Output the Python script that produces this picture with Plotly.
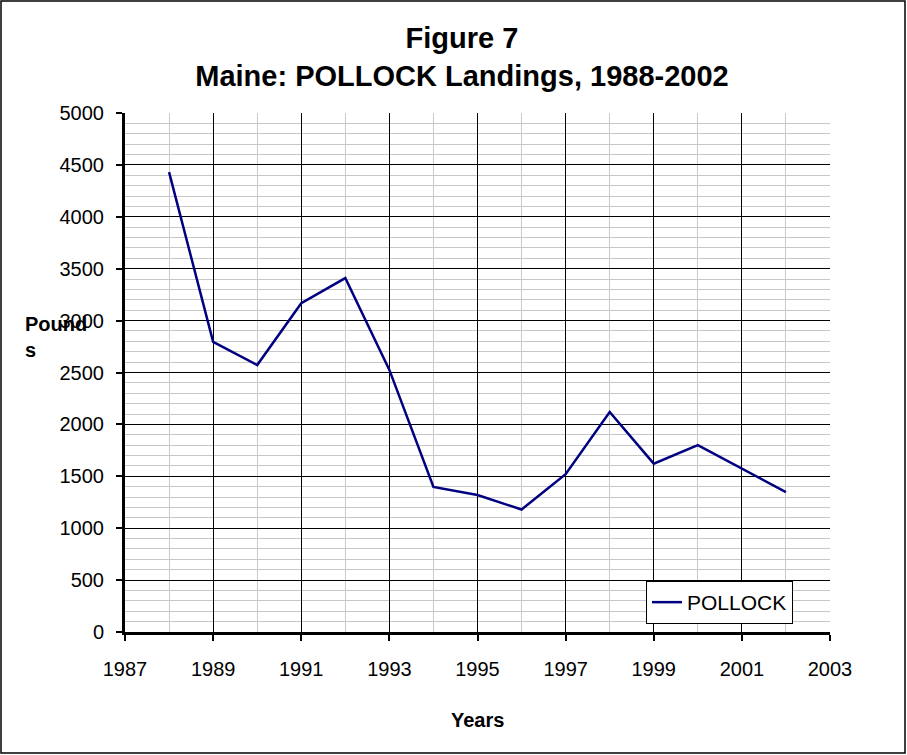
import plotly.graph_objects as go

years = [1988, 1989, 1990, 1991, 1992, 1993, 1994, 1995, 1996, 1997, 1998, 1999, 2000, 2001, 2002]
pounds = [4430, 2795, 2572, 3168, 3410, 2525, 1398, 1320, 1180, 1520, 2120, 1622, 1800, 1578, 1348]
series_name = "POLLOCK"
title_text = "Figure 7<br>Maine: POLLOCK Landings, 1988-2002"
x_title = "Years"
y_title = "Pound<br>s"

FONT = "Liberation Sans, Arial, sans-serif"

fig = go.Figure()
fig.add_trace(go.Scatter(x=years, y=pounds, mode="lines", name=series_name,
                         line=dict(color="#000080", width=2.5)))

L, R, T, B = 125, 77, 113, 123
W, H = 907, 755
pw, ph = W - L - R, H - T - B

fig.update_layout(
    width=W, height=H,
    margin=dict(l=L, r=R, t=T, b=B, pad=0),
    paper_bgcolor="white", plot_bgcolor="white",
    font=dict(family=FONT, size=20, color="black"),
    title=dict(text=title_text, x=462 / W, xref="container", xanchor="center",
               y=1 - 48 / H, yref="container", yanchor="top",
               font=dict(family=FONT, size=29, color="black", weight="bold")),
    showlegend=True,
    legend=dict(x=(646 - L) / pw, y=(632 - 581) / ph, xanchor="left", yanchor="top",
                bgcolor="white", bordercolor="black", borderwidth=1,
                font=dict(family=FONT, size=21), itemwidth=30,
                tracegroupgap=0),
    xaxis=dict(range=[1987, 2003], tick0=1987, dtick=2, tickmode="linear",
               showgrid=True, gridcolor="#000000", gridwidth=1,
               showline=True, linecolor="black", linewidth=3,
               ticks="outside", ticklen=6, tickwidth=2, tickcolor="black",
               ticklabelstandoff=11,
               tickfont=dict(size=20), zeroline=False,
               minor=dict(dtick=1, tick0=1987, showgrid=True, gridcolor="#c8c8c8", gridwidth=1, ticks="")),
    yaxis=dict(range=[0, 5000], tick0=0, dtick=500, tickmode="linear",
               showgrid=True, gridcolor="#000000", gridwidth=1,
               showline=True, linecolor="black", linewidth=3,
               ticks="outside", ticklen=6, tickwidth=2, tickcolor="black",
               ticklabelstandoff=8,
               tickfont=dict(size=20), zeroline=False,
               minor=dict(dtick=100, tick0=0, showgrid=True, gridcolor="#c8c8c8", gridwidth=1, ticks="")),
)

fig.add_annotation(text=x_title, xref="paper", yref="paper",
                   x=(478 - L) / pw, y=(632 - 720) / ph, xanchor="center", yanchor="middle",
                   showarrow=False, font=dict(family=FONT, size=20, color="black", weight="bold"))
fig.add_annotation(text=y_title, xref="paper", yref="paper",
                   x=(23 - L) / pw, y=(632 - 337) / ph, xanchor="left", yanchor="middle",
                   align="left", showarrow=False,
                   font=dict(family=FONT, size=20, color="black", weight="bold"))

# outer border
fig.add_shape(type="rect", xref="paper", yref="paper",
              x0=(1 - L) / pw, x1=(W - 2 - L) / pw,
              y0=(632 - (H - 2)) / ph, y1=(632 - 1) / ph,
              line=dict(color="black", width=1.5), layer="above")

fig.write_html("out.html", config={"displayModeBar": False},
               post_script="document.body.style.margin='0';document.body.style.overflow='hidden';")
